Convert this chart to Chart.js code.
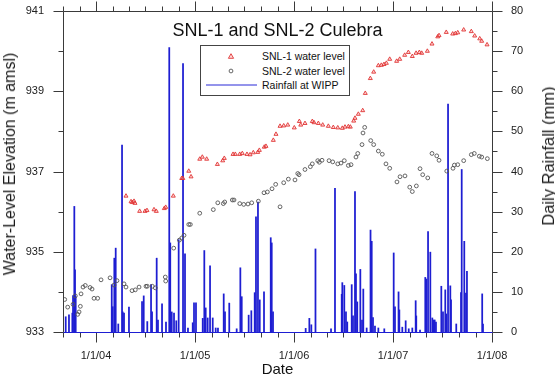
<!DOCTYPE html>
<html>
<head>
<meta charset="utf-8">
<script src="https://cdn.jsdelivr.net/npm/chart.js@4.4.0/dist/chart.umd.min.js"></script>
<style>
html,body{margin:0;padding:0;background:#fff;}
#wrap{position:relative;width:555px;height:379px;font-family:'Liberation Sans',Arial,sans-serif;color:#111;overflow:hidden;}
#c{position:absolute;left:0;top:0;}
.t{position:absolute;white-space:nowrap;}
#title{left:0;width:555px;top:21px;text-align:center;font-size:18px;line-height:18px;}
.vlab{line-height:16px;color:#1a1a1a;transform:translate(-50%,-50%) rotate(-90deg);}
#ylab{left:10px;top:164px;font-size:16px;}
#y2lab{left:548px;top:156px;font-size:16.5px;}
#legend{position:absolute;left:200px;top:45px;}
</style>
</head>
<body>
<div id="wrap">
<canvas id="c" width="555" height="379"></canvas>
<div id="title" class="t">SNL-1 and SNL-2 Culebra</div>
<div id="ylab" class="t vlab">Water-Level Elevation (m amsl)</div>
<div id="y2lab" class="t vlab">Daily Rainfall (mm)</div>
<svg id="legend" width="151" height="52" font-family="'Liberation Sans',Arial,sans-serif" font-size="10.5">
  <rect x="0.5" y="0.5" width="149" height="50" fill="#fff" stroke="#444" stroke-width="1"/>
  <polygon points="31,8.7 33.6,13.3 28.4,13.3" fill="rgba(255,140,140,0.35)" stroke="#e03535" stroke-width="0.9"/>
  <circle cx="31" cy="26" r="1.9" fill="none" stroke="#555" stroke-width="0.9"/>
  <line x1="6" y1="40" x2="57" y2="40" stroke="rgb(40,40,215)" stroke-width="1"/>
  <text x="62" y="15.4" fill="#111">SNL-1 water level</text>
  <text x="62" y="29.7" fill="#111">SNL-2 water level</text>
  <text x="62" y="43.7" fill="#111">Rainfall at WIPP</text>
</svg>
</div>
<script>
// ---------------- data (x = decimal year) ----------------
const snl1Dates = [2004.303,2004.354,2004.367,2004.384,2004.394,2004.441,2004.495,2004.515,2004.586,2004.609,
2004.690,2004.704,2004.781,2004.866,2004.877,2004.937,2004.960,2005.048,2005.074,2005.118,2005.226,2005.280,
2005.296,2005.384,2005.407,2005.452,2005.478,2005.525,2005.556,2005.589,2005.634,2005.650,2005.700,2005.717,
2005.791,2005.818,2005.859,2005.896,2005.937,2006.003,2006.054,2006.068,2006.111,2006.185,2006.202,2006.246,
2006.290,2006.347,2006.397,2006.442,2006.488,2006.515,2006.549,2006.569,2006.603,2006.616,2006.650,2006.694,
2006.720,2006.771,2006.805,2006.852,2006.882,2006.909,2006.933,2006.967,2007.037,2007.068,2007.118,2007.155,
2007.195,2007.233,2007.266,2007.290,2007.347,2007.394,2007.452,2007.465,2007.538,2007.603,2007.630,2007.654,
2007.714,2007.791,2007.825,2007.876,2007.896,2007.950];
const snl1Levels = [936.39,936.25,936.23,936.26,936.21,936.01,936.01,936.03,936.05,936.01,
936.08,936.11,936.39,936.83,936.83,937.01,936.87,937.31,937.36,937.31,937.18,937.27,
937.33,937.43,937.43,937.43,937.45,937.43,937.42,937.47,937.48,937.53,937.61,937.63,
937.78,937.93,938.13,938.14,938.16,938.09,938.25,938.16,938.20,938.25,938.22,938.20,
938.16,938.13,938.10,938.09,938.08,938.11,938.12,938.11,938.26,938.33,938.43,938.52,
938.95,939.32,939.48,939.64,939.65,939.67,939.70,939.80,939.75,939.80,939.90,939.97,
939.87,939.95,939.97,939.95,940.00,940.18,940.36,940.39,940.47,940.43,940.44,940.46,
940.53,940.49,940.38,940.31,940.25,940.16];

const snl2Dates = [2003.684,2003.714,2003.768,2003.791,2003.815,2003.829,2003.842,2003.849,2003.869,2003.892,
2003.940,2003.960,2003.980,2004.017,2004.051,2004.142,2004.182,2004.212,2004.283,2004.303,2004.364,2004.397,
2004.435,2004.505,2004.518,2004.569,2004.599,2004.700,2004.704,2004.785,2004.842,2004.866,2004.889,2004.937,
2004.953,2005.048,2005.185,2005.230,2005.286,2005.300,2005.377,2005.394,2005.452,2005.492,2005.535,2005.573,
2005.640,2005.697,2005.731,2005.778,2005.815,2005.859,2005.896,2005.943,2006.010,2006.038,2006.051,2006.111,
2006.165,2006.185,2006.240,2006.256,2006.283,2006.354,2006.391,2006.442,2006.475,2006.508,2006.549,2006.576,
2006.626,2006.644,2006.687,2006.697,2006.714,2006.775,2006.805,2006.852,2006.892,2006.929,2006.967,2007.040,
2007.071,2007.121,2007.169,2007.195,2007.236,2007.273,2007.300,2007.351,2007.394,2007.442,2007.465,2007.543,
2007.606,2007.620,2007.654,2007.714,2007.791,2007.821,2007.872,2007.896,2007.953];
const snl2Levels = [933.81,933.62,933.69,933.90,933.44,933.50,933.64,933.95,934.12,934.16,
934.11,934.07,933.84,933.84,934.30,934.35,934.17,934.28,934.20,934.12,934.03,934.05,
934.12,934.14,934.14,934.14,934.10,934.37,934.27,935.09,935.29,935.34,935.41,935.68,
935.68,935.96,936.05,936.22,936.20,936.24,936.29,936.29,936.20,936.18,936.19,936.22,
936.26,936.47,936.49,936.57,936.68,936.12,936.72,936.81,936.79,936.95,936.92,937.05,
937.12,937.19,937.27,937.23,937.28,937.27,937.24,937.19,937.21,937.27,937.15,937.17,
937.36,937.45,937.67,937.96,938.10,937.77,937.67,937.51,937.43,937.19,937.08,936.74,
936.87,936.89,936.61,936.50,936.64,937.07,936.92,936.84,937.45,937.39,937.28,937.01,
937.08,937.16,937.17,937.27,937.42,937.45,937.38,937.36,937.32];

const rainDates = [2003.694,2003.727,2003.761,2003.768,2003.781,2003.788,2003.795,
2004.159,2004.169,2004.185,2004.199,2004.225,2004.263,2004.270,2004.283,2004.333,2004.465,2004.482,2004.518,
2004.556,2004.566,2004.613,2004.626,2004.667,2004.707,2004.740,2004.750,2004.765,2004.788,2004.811,2004.835,
2004.879,2004.899,2004.929,2004.977,2004.990,2005.010,2005.078,2005.094,2005.108,2005.128,2005.152,2005.179,
2005.209,2005.232,2005.290,2005.303,2005.346,2005.421,2005.458,2005.472,2005.542,2005.569,2005.603,2005.616,
2005.636,2005.654,2005.697,2005.765,2005.775,2005.788,
2006.118,2006.155,2006.175,2006.217,2006.374,2006.414,2006.482,2006.488,2006.508,2006.525,2006.538,2006.583,
2006.596,2006.616,2006.626,2006.639,2006.670,2006.687,2006.700,2006.734,2006.773,2006.785,2006.798,2006.818,
2006.852,2006.912,2007.007,2007.020,2007.056,2007.064,2007.094,2007.128,2007.159,2007.195,2007.229,2007.235,
2007.273,2007.326,2007.336,2007.354,2007.377,2007.397,2007.407,2007.421,2007.434,2007.488,2007.505,2007.528,
2007.538,2007.556,2007.579,2007.586,2007.639,2007.687,2007.694,2007.720,2007.737,2007.747,2007.901,2007.909];
const rainMm = [3.8,4.3,4.7,9.1,31.3,15.5,8.8,
11.8,6.3,18.4,20.9,2.0,46.6,5.0,4.7,6.2,7.6,9.0,2.6,
11.8,5.0,18.4,3.0,7.0,2.5,70.9,22.2,5.0,4.7,2.8,23.0,
66.9,19.5,1.0,2.3,7.3,7.3,3.4,20.3,6.0,3.5,16.5,3.5,
1.0,1.0,9.5,5.0,7.2,0.8,16.0,8.8,4.2,5.3,9.8,28.7,
32.4,8.0,10.0,23.5,22.2,5.0,
0.9,3.4,1.8,20.7,0.8,35.8,9.4,12.3,11.6,5.0,2.5,11.8,
4.0,35.0,14.5,7.5,15.6,3.0,10.7,1.0,25.4,22.6,3.6,1.5,
1.0,0.8,19.7,6.3,10.0,5.5,1.2,2.8,0.8,1.0,7.8,4.0,
0.5,13.6,13.2,25.0,19.9,3.5,3.0,3.0,2.5,11.4,5.0,10.5,
4.5,56.8,11.5,8.0,2.0,9.8,40.5,22.6,9.7,15.1,9.5,2.0];

const xTickYears = [2004, 2005, 2006, 2007, 2008];
const xTickLabels = ['1/1/04', '1/1/05', '1/1/06', '1/1/07', '1/1/08'];
const X_MIN = 2003 + 8 / 12, X_MAX = 2008;

// ---------------- chart ----------------
const FONT = "'Liberation Sans', Arial, sans-serif";
const RAIN = 'rgb(30,30,210)';
const AXIS = '#3a3a3a';
const NOGRID = (len) => ({display: false, drawTicks: true, tickLength: len, tickColor: 'rgba(0,0,0,0)', offset: false});

const frameTicks = {
  id: 'frameTicks',
  afterDatasetsDraw(chart) {
    const {ctx, chartArea: a, scales} = chart;
    const L = Math.round(a.left) + 0.5, R = Math.round(a.right) + 0.5;
    const T = Math.round(a.top) + 0.5, B = Math.round(a.bottom) + 0.5;
    ctx.save();
    ctx.lineWidth = 1;
    ctx.strokeStyle = AXIS;
    ctx.beginPath();
    ctx.moveTo(L, B); ctx.lineTo(L, T); ctx.lineTo(R, T); ctx.lineTo(R, B);
    for (let k = 0; k <= 26; k++) {
      const v = X_MIN + k / 6;
      const p = Math.round(scales.x.getPixelForValue(v)) + 0.5;
      const major = Math.abs(v - Math.round(v)) < 1e-6;
      const len = major ? 10 : 5;
      ctx.moveTo(p, B); ctx.lineTo(p, B + len);
      ctx.moveTo(p, T); ctx.lineTo(p, T - len);
    }
    for (let v = 933; v <= 941; v++) {
      const p = Math.round(scales.y.getPixelForValue(v)) + 0.5;
      const len = (v % 2 === 1) ? 10 : 5;
      ctx.moveTo(L, p); ctx.lineTo(L - len, p);
    }
    for (let v = 0; v <= 80; v += 5) {
      const p = Math.round(scales.y2.getPixelForValue(v)) + 0.5;
      const len = (v % 10 === 0) ? 10 : 5;
      ctx.moveTo(R, p); ctx.lineTo(R + len, p);
    }
    ctx.stroke();
    ctx.strokeStyle = RAIN;
    ctx.beginPath(); ctx.moveTo(L, B); ctx.lineTo(R, B); ctx.stroke();
    ctx.restore();
  }
};

new Chart(document.getElementById('c'), {
  type: 'scatter',
  data: {
    datasets: [
      {
        type: 'scatter', label: 'SNL-1 water level',
        data: snl1Dates.map((d, i) => ({x: d, y: snl1Levels[i]})),
        xAxisID: 'x', yAxisID: 'y', order: 0,
        pointStyle: 'triangle', pointRadius: 2.3, pointBorderWidth: 0.9,
        borderColor: '#e03535', backgroundColor: 'rgba(255,140,140,0.35)'
      },
      {
        type: 'scatter', label: 'SNL-2 water level',
        data: snl2Dates.map((d, i) => ({x: d, y: snl2Levels[i]})),
        xAxisID: 'x', yAxisID: 'y', order: 1,
        pointStyle: 'circle', pointRadius: 1.9, pointBorderWidth: 0.9,
        borderColor: '#555', backgroundColor: 'rgba(0,0,0,0)'
      },
      {
        type: 'bar', label: 'Rainfall at WIPP',
        data: rainDates.map((d, i) => ({x: d, y: rainMm[i]})),
        xAxisID: 'x', yAxisID: 'y2', order: 2,
        backgroundColor: RAIN, borderWidth: 0, barThickness: 1.1, grouped: false
      }
    ]
  },
  options: {
    responsive: false, devicePixelRatio: 1, animation: false,
    layout: {autoPadding: false, padding: {top: 11, left: 0, right: 0, bottom: 0}},
    plugins: {legend: {display: false}, tooltip: {enabled: false}, title: {display: false}},
    events: [],
    scales: {
      x: {
        type: 'linear', position: 'bottom', min: X_MIN, max: X_MAX, offset: false,
        grid: NOGRID(17), border: {display: false},
        afterBuildTicks: s => { s.ticks = xTickYears.map(v => ({value: v})); },
        ticks: {padding: 0, autoSkip: false, maxRotation: 0, color: '#222', font: {size: 11, family: FONT},
          callback: (v, i) => xTickLabels[i]},
        title: {display: true, text: 'Date', color: '#111', font: {size: 15, family: FONT}, padding: {top: 0, bottom: 0}},
        afterFit: s => { s.height = 47; }
      },
      y: {
        type: 'linear', position: 'left', min: 933, max: 941,
        grid: NOGRID(19), border: {display: false},
        ticks: {stepSize: 2, padding: 0, color: '#222', font: {size: 11, family: FONT}},
        afterFit: s => { s.width = 63; }
      },
      y2: {
        type: 'linear', position: 'right', min: 0, max: 80,
        grid: NOGRID(19), border: {display: false},
        ticks: {stepSize: 10, padding: 0, color: '#222', font: {size: 11, family: FONT}},
        afterFit: s => { s.width = 63; }
      }
    }
  },
  plugins: [frameTicks]
});
</script>
</body>
</html>
